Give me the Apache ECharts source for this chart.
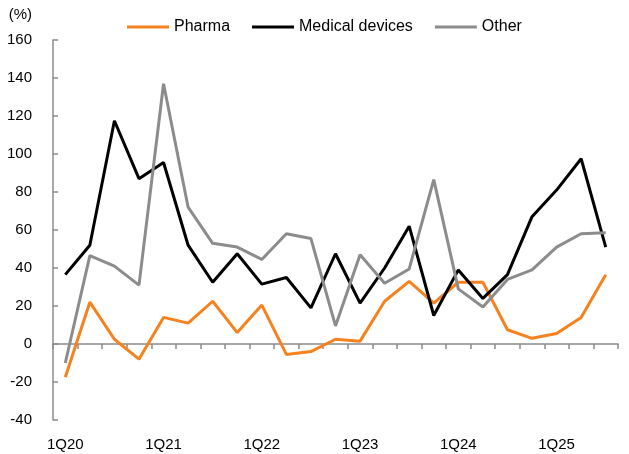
<!DOCTYPE html>
<html>
<head>
<meta charset="utf-8">
<script src="https://cdn.jsdelivr.net/npm/echarts@6/dist/echarts.min.js"></script>
<style>
  html, body { margin: 0; padding: 0; background: #fff; }
  #chart { width: 629px; height: 454px; }
</style>
</head>
<body>
<div id="chart"></div>
<script>
// quarters 1Q20 .. 3Q25
var quarters = [
  "1Q20", "2Q20", "3Q20", "4Q20",
  "1Q21", "2Q21", "3Q21", "4Q21",
  "1Q22", "2Q22", "3Q22", "4Q22",
  "1Q23", "2Q23", "3Q23", "4Q23",
  "1Q24", "2Q24", "3Q24", "4Q24",
  "1Q25", "2Q25", "3Q25"
];
var pharma = [-17.5, 22, 2.5, -8, 14, 11, 22.5, 6, 20.5, -5.5, -4, 2.5, 1.5, 22.5, 33, 21.5, 32.5, 32.5, 7.5, 3, 5.5, 14, 36.5];
var medicalDevices = [36.5, 52, 117.5, 87, 95.5, 52, 32.5, 47.5, 31.5, 35, 19, 47.5, 21.5, 40, 62, 15, 39, 24, 36.5, 67, 81, 97.5, 51];
var other = [-10, 46.5, 41, 31, 137, 72, 53, 51, 44.5, 58, 55.5, 9.5, 47, 32, 39.5, 86.5, 29, 19.5, 34, 39, 51, 58, 58.5];

var axisGrey = "#8c8c8c";
var font = "'Liberation Sans', Arial, sans-serif";

var myChart = echarts.init(document.getElementById("chart"));

var option = {
  animation: false,
  textStyle: { fontFamily: font },
  legend: {
    left: 122,
    top: 14,
    itemWidth: 42,
    itemHeight: 3,
    itemGap: 22,
    icon: "rect",
    textStyle: { fontSize: 16, color: "#000", fontFamily: font },
    data: ["Pharma", "Medical devices", "Other"]
  },
  grid: { left: 53, right: 11, top: 40, bottom: 34 },
  xAxis: [{
    // bottom labels only
    type: "category",
    data: quarters,
    position: "bottom",
    axisLine: { show: false, onZero: false },
    axisTick: { show: false },
    axisLabel: { interval: 3, fontSize: 15, color: "#000", margin: 17, fontFamily: font }
  }, {
    // axis line sitting on zero, ticks between quarters
    type: "category",
    data: quarters,
    position: "top",
    axisLine: { show: true, onZero: true, lineStyle: { color: axisGrey, width: 1.5 } },
    axisTick: { show: true, inside: true, length: 5, interval: 0, lineStyle: { color: axisGrey, width: 1.5 } },
    axisLabel: { show: false }
  }],
  yAxis: {
    type: "value",
    min: -40,
    max: 160,
    interval: 20,
    name: "(%)",
    nameLocation: "end",
    nameGap: 18,
    nameTextStyle: { align: "right", padding: [0, 21, 0, 0], fontSize: 15, color: "#000", fontFamily: font },
    splitLine: { show: false },
    axisLine: { show: true, lineStyle: { color: axisGrey, width: 1.5 } },
    axisTick: { show: true, inside: true, length: 5, lineStyle: { color: axisGrey, width: 1.5 } },
    axisLabel: { fontSize: 15, color: "#000", margin: 21, fontFamily: font }
  },
  series: [{
    name: "Pharma",
    type: "line",
    data: pharma,
    symbol: "none",
    color: "#f5821f",
    lineStyle: { width: 3 }
  }, {
    name: "Medical devices",
    type: "line",
    data: medicalDevices,
    symbol: "none",
    color: "#000000",
    lineStyle: { width: 3 }
  }, {
    name: "Other",
    type: "line",
    data: other,
    symbol: "none",
    color: "#8c8c8c",
    lineStyle: { width: 3 }
  }]
};

myChart.setOption(option);
</script>
</body>
</html>
